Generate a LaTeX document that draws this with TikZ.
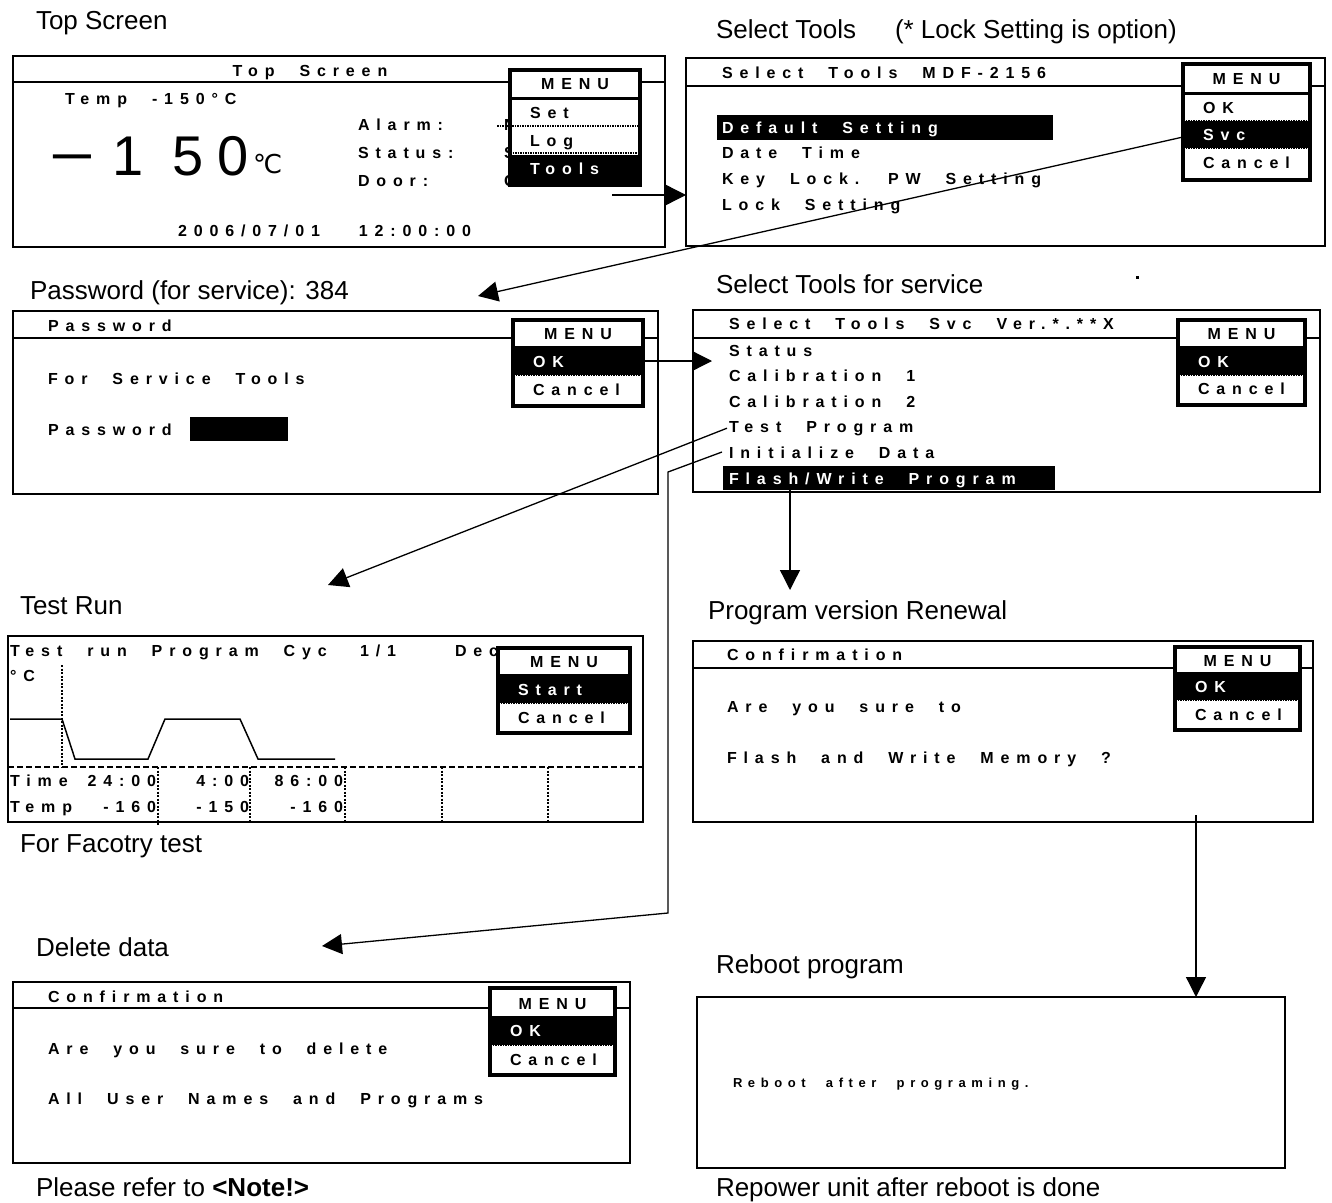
\documentclass[tikz,border=0pt]{standalone}
\usepackage{fontspec}
\setmainfont{Liberation Sans}
\newfontfamily\lcdfam[LetterSpace=43,WordSpace=2.2]{Liberation Sans}
\newfontfamily\symfam{DejaVu Sans}
\usetikzlibrary{arrows.meta}
\tikzset{
  screen/.style={draw, line width=2.2pt, anchor=north west, inner sep=0pt, outer sep=0pt},
  menubox/.style={draw, line width=3.2pt, fill=white, anchor=north west, inner sep=0pt, outer sep=0pt},
  sepline/.style={line width=2pt},
  mline/.style={line width=3pt},
  dotline/.style={line width=1.6pt, dash pattern=on 1.5pt off 1pt},
  hl/.style={fill=black},
  lcd/.style={font=\lcdfam\bfseries\fontsize{16}{18}\selectfont, anchor=base west, inner sep=0pt, outer sep=0pt},
  lcdw/.style={lcd, text=white},
  lcdc/.style={lcd, anchor=base},
  lcdr/.style={lcd, anchor=base east},
  hdr/.style={font=\fontsize{26}{30}\selectfont, anchor=base west, inner sep=0pt, outer sep=0pt},
  big/.style={font=\fontsize{56}{60}\selectfont, anchor=base, inner sep=0pt, outer sep=0pt},
  conn/.style={line width=1.3pt, -{Triangle[length=20pt,width=20pt]}},
}
\begin{document}
\begin{tikzpicture}[x=1pt,y=-1pt]
\useasboundingbox (0,0) rectangle (1332,1202);

% ---------- headers ----------
\node[hdr] (h1) at (36,29) {Top Screen};
\node[hdr] (h2) at (716,38) {Select Tools};
\node[hdr] (h2b) at (895,38) {(* Lock Setting is option)};
\node[hdr] (h3) at (30,299) {Password (for service): 384};
\node[hdr] (h4) at (716,293) {Select Tools for service};
\node[hdr] (h5) at (20,614) {Test Run};
\node[hdr] (h5b) at (20,852) {For Facotry test};
\node[hdr] (h6) at (708,619) {Program version Renewal};
\node[hdr] (h7) at (36,956) {Delete data};
\node[hdr] (h7b) at (36,1196) {Please refer to \textbf{<Note!>}};
\node[hdr] (h8) at (716,973) {Reboot program};
\node[hdr] (h8b) at (716,1196) {Repower unit after reboot is done};
\fill (1136,276) rectangle (1138.5,278.5);

% ---------- screen 1: Top Screen ----------
\node[screen, minimum width=652, minimum height=191] (s1) at (13,56) {};
\draw[sepline] (13,82) -- (665,82);
\node[lcdc] (s1t) at (310,76) {Top Screen};
\node[lcd] (s1temp) at (65,104) {Temp -150°C};
\node[big] (s1m) at (72,175) {\scalebox{1.4}[1]{−}};
\node[big] (s1d1) at (128,175) {1};
\node[big] (s1d2) at (188,175) {5};
\node[big] (s1d3) at (233,175) {0};
\node[font=\symfam\fontsize{26}{28}\selectfont, anchor=base west, inner sep=0pt] (s1c) at (253,173) {℃};
\node[lcd] (s1a) at (358,130) {Alarm:};
\node[lcd] (s1s) at (358,158) {Status:};
\node[lcd] (s1o) at (358,186) {Door:};
\node[lcd] (s1a2) at (504,130) {N};
\node[lcd] (s1s2) at (504,158) {S};
\node[lcd] (s1o2) at (504,186) {C};
\node[lcd] (s1dt) at (178,236) {2006/07/01\hspace{14pt} 12:00:00};
\node[menubox, minimum width=130, minimum height=115] (m1) at (510,70) {};
\fill[hl] (510,155) rectangle (640,185);
\draw[line width=3.2pt] (510,70) rectangle (640,185);
\draw[mline] (510,98) -- (640,98);
\draw[dotline] (497,126) -- (640,126);
\draw[dotline] (510,153) -- (640,153);
\node[lcdc] (m1h) at (575,89) {MENU};
\node[lcd] (m1a) at (530,118) {Set};
\node[lcd] (m1b) at (530,146) {Log};
\node[lcdw] (m1c) at (530,174) {Tools};

% ---------- screen 2: Select Tools ----------
\node[screen, minimum width=639, minimum height=188] (s2) at (686,58) {};
\draw[sepline] (686,86) -- (1325,86);
\node[lcd] (s2t) at (722,78) {Select Tools MDF-2156};
\fill[hl] (717,115) rectangle (1053,140);
\node[lcdw] (s2i1) at (722,133) {Default Setting};
\node[lcd] (s2i2) at (722,158) {Date Time};
\node[lcd] (s2i3) at (722,184) {Key Lock. PW Setting};
\node[lcd] (s2i4) at (722,210) {Lock Setting};
\node[menubox, minimum width=127, minimum height=116] (m2) at (1183,64) {};
\fill[hl] (1183,121) rectangle (1310,148);
\draw[line width=3.2pt] (1183,64) rectangle (1310,180);
\draw[mline] (1183,93) -- (1310,93);
\draw[dotline] (1183,121) -- (1310,121);
\draw[dotline] (1183,148) -- (1310,148);
\node[lcdc] (m2h) at (1246.5,84) {MENU};
\node[lcd] (m2a) at (1203,113) {OK};
\node[lcdw] (m2b) at (1203,140) {Svc};
\node[lcd] (m2c) at (1203,168) {Cancel};

% ---------- screen 3: Password ----------
\node[screen, minimum width=645, minimum height=183] (s3) at (13,311) {};
\draw[sepline] (13,338) -- (658,338);
\node[lcd] (s3t) at (48,331) {Password};
\node[lcd] (s3a) at (48,384) {For Service Tools};
\node[lcd] (s3b) at (48,435) {Password};
\fill[hl] (190,417) rectangle (288,441);
\node[menubox, minimum width=130, minimum height=86] (m3) at (513,320) {};
\fill[hl] (513,347) rectangle (643,375);
\draw[line width=3.2pt] (513,320) rectangle (643,406);
\draw[mline] (513,347) -- (643,347);
\draw[dotline] (513,375) -- (643,375);
\node[lcdc] (m3h) at (578,339) {MENU};
\node[lcdw] (m3a) at (533,367) {OK};
\node[lcd] (m3b) at (533,395) {Cancel};

% ---------- screen 4: Select Tools Svc ----------
\node[screen, minimum width=627, minimum height=182] (s4) at (693,310) {};
\draw[sepline] (693,338) -- (1320,338);
\node[lcd] (s4t) at (729,329) {Select Tools Svc Ver.*.**X};
\node[lcd] (s4i1) at (729,356) {Status};
\node[lcd] (s4i2) at (729,381) {Calibration 1};
\node[lcd] (s4i3) at (729,407) {Calibration 2};
\node[lcd] (s4i4) at (729,432) {Test Program};
\node[lcd] (s4i5) at (729,458) {Initialize Data};
\fill[hl] (723,466) rectangle (1055,490);
\node[lcdw] (s4i6) at (729,484) {Flash/Write Program};
\node[menubox, minimum width=127, minimum height=85] (m4) at (1178,320) {};
\fill[hl] (1178,347) rectangle (1305,375);
\draw[line width=3.2pt] (1178,320) rectangle (1305,405);
\draw[mline] (1178,347) -- (1305,347);
\draw[dotline] (1178,375) -- (1305,375);
\node[lcdc] (m4h) at (1241.5,339) {MENU};
\node[lcdw] (m4a) at (1198,367) {OK};
\node[lcd] (m4b) at (1198,394) {Cancel};

% ---------- screen 5: Test run ----------
\node[screen, minimum width=635, minimum height=186] (s5) at (8,636) {};
\node[lcd] (s5t) at (10,656) {Test run Program Cyc};
\node[lcd] (s5t2) at (360,656) {1/1};
\node[lcd] (s5t3) at (455,656) {Dec};
\node[lcd] (s5c) at (10,681) {°C};
\draw[line width=2pt, dash pattern=on 2pt off 1.5pt] (62,665) -- (62,767);
\draw[line width=1.5pt] (10,719) -- (62,719) -- (75,759) -- (148,759) -- (165,719) -- (240,719) -- (258,759) -- (335,759);
\draw[line width=2pt, dash pattern=on 6pt off 3pt] (8,767) -- (643,767);
\draw[line width=2pt, dash pattern=on 2pt off 1.5pt] (158,767) -- (158,826);
\foreach \xx in {250,345,442,548} {\draw[line width=2pt, dash pattern=on 2pt off 1.5pt] (\xx,767) -- (\xx,822);}
\node[lcd] (s5r1) at (10,786) {Time};
\node[lcdr] (s5r1a) at (156,786) {24:00};
\node[lcdr] (s5r1b) at (249,786) {4:00};
\node[lcdr] (s5r1c) at (343,786) {86:00};
\node[lcd] (s5r2) at (10,812) {Temp};
\node[lcdr] (s5r2a) at (156,812) {-160};
\node[lcdr] (s5r2b) at (249,812) {-150};
\node[lcdr] (s5r2c) at (343,812) {-160};
\node[menubox, minimum width=132, minimum height=85] (m5) at (498,648) {};
\fill[hl] (498,675) rectangle (630,703);
\draw[line width=3.2pt] (498,648) rectangle (630,733);
\draw[mline] (498,675) -- (630,675);
\draw[dotline] (498,703) -- (630,703);
\node[lcdc] (m5h) at (564,667) {MENU};
\node[lcdw] (m5a) at (518,695) {Start};
\node[lcd] (m5b) at (518,723) {Cancel};

% ---------- screen 6: Confirmation (flash) ----------
\node[screen, minimum width=620, minimum height=181] (s6) at (693,641) {};
\draw[sepline] (693,668) -- (1313,668);
\node[lcd] (s6t) at (727,660) {Confirmation};
\node[lcd] (s6a) at (727,712) {Are you sure to};
\node[lcd] (s6b) at (727,763) {Flash and Write Memory ?};
\node[menubox, minimum width=125, minimum height=83] (m6) at (1175,647) {};
\fill[hl] (1175,673) rectangle (1300,700);
\draw[line width=3.2pt] (1175,647) rectangle (1300,730);
\draw[mline] (1175,673) -- (1300,673);
\draw[dotline] (1175,700) -- (1300,700);
\node[lcdc] (m6h) at (1237.5,666) {MENU};
\node[lcdw] (m6a) at (1195,692) {OK};
\node[lcd] (m6b) at (1195,720) {Cancel};

% ---------- screen 7: Confirmation (delete) ----------
\node[screen, minimum width=617, minimum height=181] (s7) at (13,982) {};
\draw[sepline] (13,1008) -- (630,1008);
\node[lcd] (s7t) at (48,1002) {Confirmation};
\node[lcd] (s7a) at (48,1054) {Are you sure to delete};
\node[lcd] (s7b) at (48,1104) {All User Names and Programs};
\node[menubox, minimum width=125, minimum height=87] (m7) at (490,988) {};
\fill[hl] (490,1017) rectangle (615,1045);
\draw[line width=3.2pt] (490,988) rectangle (615,1075);
\draw[mline] (490,1017) -- (615,1017);
\draw[dotline] (490,1045) -- (615,1045);
\node[lcdc] (m7h) at (552.5,1009) {MENU};
\node[lcdw] (m7a) at (510,1036) {OK};
\node[lcd] (m7b) at (510,1065) {Cancel};

% ---------- screen 8: Reboot ----------
\node[screen, minimum width=588, minimum height=171] (s8) at (697,997) {};
\node[lcd, font=\lcdfam\bfseries\fontsize{13}{15}\selectfont] (s8a) at (733,1087) {Reboot after programing.};

% ---------- connectors ----------
\coordinate (c1s) at (612,195);
\coordinate (c2s) at (1183,137);
\coordinate (c2e) at (478,296);
\coordinate (c3e) at (712,361);
\coordinate (c4e) at (328,585);
\coordinate (c5s) at (722,452);
\coordinate (c5a) at (668,472);
\coordinate (c5b) at (668,913);
\coordinate (c5e) at (322,946);
\coordinate (c6s) at (790,490);
\coordinate (c6e) at (790,590);
\coordinate (c7s) at (1196,815);
\draw[conn] (c1s) -- (s2.west |- c1s);
\draw[conn] (c2s) -- (c2e);
\draw[conn] (m3.east |- c3e) -- (c3e);
\draw[conn] (s4i4.west) ++(-2,0) -- (c4e);
\draw[conn] (c5s) -- (c5a) -- (c5b) -- (c5e);
\draw[conn] (c6s) -- (c6e);
\draw[conn] (c7s) -- (c7s |- s8.north);
\end{tikzpicture}
\end{document}
